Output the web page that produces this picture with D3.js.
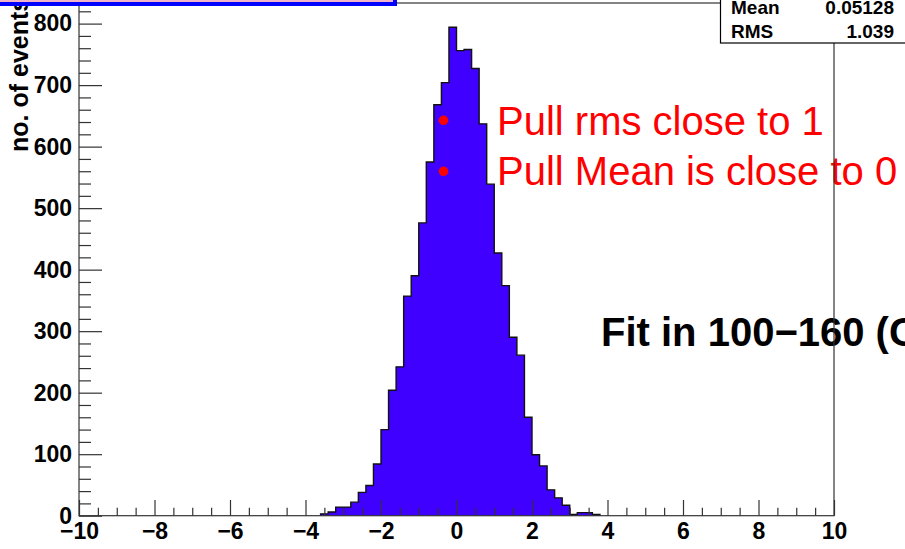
<!DOCTYPE html>
<html>
<head>
<meta charset="utf-8">
<script src="https://cdn.jsdelivr.net/npm/d3@7"></script>
<style>
  html, body { margin: 0; padding: 0; background: #fff; overflow: hidden; }
  svg { display: block; font-family: "Liberation Sans", Arial, sans-serif; }
</style>
</head>
<body>
<div id="chart"></div>
<script>
/* pull distribution histogram (bin width 0.2) */
const binLow = [
  -3.6, -3.4, -3.2, -3.0, -2.8, -2.6, -2.4, -2.2, -2.0, -1.8,
  -1.6, -1.4, -1.2, -1.0, -0.8, -0.6, -0.4, -0.2,  0.0,  0.2,
   0.4,  0.6,  0.8,  1.0,  1.2,  1.4,  1.6,  1.8,  2.0,  2.2,
   2.4,  2.6,  2.8,  3.0,  3.2,  3.4,  3.6
];
const binCounts = [
    3,   6,  14,  14,  22,  38,  49,  84, 140, 204,
  242, 357, 390, 476, 575, 668, 704, 794, 756, 758,
  727, 637, 539, 427, 374, 290, 261, 160,  99,  81,
   42,  29,  17,   2,   5,   5,   2
];
const binWidth = 0.2;

const xMajor = [-10, -8, -6, -4, -2, 0, 2, 4, 6, 8, 10];
const yMajor = [0, 100, 200, 300, 400, 500, 600, 700, 800];

const statNames  = ['Mean', 'RMS'];
const statValues = ['0.05128', '1.039'];

const notes = ['Pull rms close to 1', 'Pull Mean is close to 0'];
const fitLabel = 'Fit in 100\u2212160 (GeV)';
const yTitle = 'no. of events';

const W = 905, H = 549;
const frame = { left: 79, right: 834, top: 3, bottom: 515.7 };

const svg = d3.select('#chart').append('svg')
  .attr('width', W).attr('height', H);

svg.append('rect').attr('width', W).attr('height', H).attr('fill', '#fff');

const x = d3.scaleLinear().domain([-10, 10]).range([frame.left, frame.right]);
const y = d3.scaleLinear().domain([0, 833.5]).range([frame.bottom, frame.top]);

/* step outline built from bin edges */
const pts = [];
binLow.forEach((lo, i) => {
  pts.push([lo, binCounts[i]]);
  pts.push([lo + binWidth, binCounts[i]]);
});
const first = binLow[0], last = binLow[binLow.length - 1] + binWidth;
const outline = [[first, 0], ...pts, [last, 0]];

svg.append('path')
  .datum(outline)
  .attr('d', d3.line().x(d => x(d[0])).y(d => y(d[1])))
  .attr('fill', '#4000ff')
  .attr('stroke', '#111')
  .attr('stroke-width', 1.4)
  .attr('stroke-linejoin', 'miter');

/* ── axes ── */
const axisColor = '#333';
const xMinor = d3.range(-20, 21).map(v => v / 2).filter(v => v % 2 !== 0);
const yMinor = d3.range(0, 834, 20).filter(v => v % 100 !== 0);

function styleAxis(g) {
  g.selectAll('path').remove();
  g.selectAll('line').attr('stroke', axisColor).attr('stroke-width', 1.2);
  g.selectAll('text')
    .attr('fill', '#000')
    .attr('font-size', 23)
    .attr('font-weight', 'bold');
}

svg.append('g')
  .attr('transform', `translate(0,${frame.bottom})`)
  .call(d3.axisBottom(x).tickValues(xMinor).tickSize(-8).tickFormat(''))
  .call(styleAxis);

svg.append('g')
  .attr('transform', `translate(0,${frame.bottom})`)
  .call(d3.axisBottom(x).tickValues(xMajor).tickSize(-15.7).tickPadding(7)
    .tickFormat(d3.format('d')))
  .call(styleAxis);

svg.append('g')
  .attr('transform', `translate(${frame.left},0)`)
  .call(d3.axisLeft(y).tickValues(yMinor).tickSize(-12).tickFormat(''))
  .call(styleAxis);

svg.append('g')
  .attr('transform', `translate(${frame.left},0)`)
  .call(d3.axisLeft(y).tickValues(yMajor).tickSize(-23).tickPadding(7)
    .tickFormat(d3.format('d')))
  .call(styleAxis);

svg.append('text')
  .attr('transform', `translate(28,152) rotate(-90)`)
  .attr('font-size', 25)
  .attr('font-weight', 'bold')
  .attr('fill', '#000')
  .text(yTitle);

/* ── annotations ── */
notes.forEach((t, i) => {
  svg.append('circle')
    .attr('cx', 443.5).attr('cy', 120.3 + i * 51)
    .attr('r', 4.8)
    .attr('fill', '#ff0000');
  svg.append('text')
    .attr('x', 497).attr('y', 135 + i * 50)
    .attr('font-size', 40)
    .attr('fill', '#ff0000')
    .text(t);
});

svg.append('text')
  .attr('x', 601).attr('y', 346)
  .attr('font-size', 40)
  .attr('font-weight', 'bold')
  .attr('fill', '#000')
  .text(fitLabel);

/* frame */
svg.append('rect')
  .attr('x', frame.left).attr('y', frame.top)
  .attr('width', frame.right - frame.left)
  .attr('height', frame.bottom - frame.top)
  .attr('fill', 'none')
  .attr('stroke', axisColor)
  .attr('stroke-width', 1.2);

/* title box, mostly off the top of the canvas */
svg.append('rect')
  .attr('x', -10).attr('y', -30)
  .attr('width', 405).attr('height', 34)
  .attr('fill', '#f2b4c8')
  .attr('stroke', '#0000ff')
  .attr('stroke-width', 4);

/* stats box */
const sb = svg.append('g');
sb.append('rect')
  .attr('x', 720.5).attr('y', -40)
  .attr('width', 220).attr('height', 83)
  .attr('fill', '#fff')
  .attr('stroke', '#000')
  .attr('stroke-width', 1.2);
statNames.forEach((n, i) => {
  sb.append('text')
    .attr('x', 731).attr('y', 14 + i * 23.6)
    .attr('font-size', 19).attr('font-weight', 'bold')
    .text(n);
  sb.append('text')
    .attr('x', 894).attr('y', 14 + i * 23.6)
    .attr('text-anchor', 'end')
    .attr('font-size', 19).attr('font-weight', 'bold')
    .text(statValues[i]);
});
</script>
</body>
</html>
